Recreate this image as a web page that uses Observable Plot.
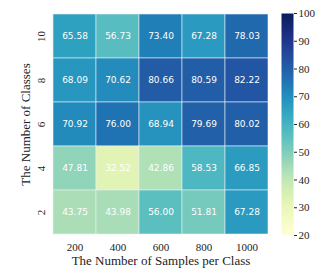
<!DOCTYPE html>
<html><head><meta charset="utf-8">
<script src="https://cdn.jsdelivr.net/npm/d3@7"></script>
<script src="https://cdn.jsdelivr.net/npm/@observablehq/plot@0.6"></script>
<style>
html,body{margin:0;padding:0;background:#fff;}
#wrap{position:relative;width:332px;height:277px;overflow:hidden;}
#wrap > div, #wrap > svg{position:absolute;top:0;}
</style>
</head><body>
<div id="wrap"></div>
<script>
const classes = ["10","8","6","4","2"];
const samples = ["200","400","600","800","1000"];
const row10 = [65.58, 56.73, 73.40, 67.28, 78.03];
const row8  = [68.09, 70.62, 80.66, 80.59, 82.22];
const row6  = [70.92, 76.00, 68.94, 79.69, 80.02];
const row4  = [47.81, 32.52, 42.86, 58.53, 66.85];
const row2  = [43.75, 43.98, 56.00, 51.81, 67.28];
const colorTicks = [20,30,40,50,60,70,80,90,100];
const colorDomain = [20,100];
const xLabel = "The Number of Samples per Class";
const yLabel = "The Number of Classes";

const rowsVals = [row10,row8,row6,row4,row2];
const table = [];
classes.forEach((c,i)=>samples.forEach((s,j)=>table.push({cls:c, smp:s, v:rowsVals[i][j]})));

const serif = "'Liberation Serif','DejaVu Serif',serif";
const sans = "'DejaVu Sans',sans-serif";

const heat = Plot.plot({
  width: 268, height: 277,
  marginLeft: 53, marginRight: 0, marginTop: 13, marginBottom: 42,
  style: {fontFamily: serif, fontSize: "11px", color: "#222", background: "transparent"},
  x: {domain: samples, padding: 0},
  y: {domain: classes, padding: 0},
  color: {type: "linear", scheme: "ylgnbu", domain: colorDomain},
  marks: [
    Plot.cell(table, {x: "smp", y: "cls", fill: "v", inset: 0, stroke: "#e8eef5", strokeWidth: 0.6}),
    Plot.text(table, {x: "smp", y: "cls", text: d => d.v.toFixed(2), fill: "white", fontFamily: sans, fontSize: 9}),
    Plot.axisX({tickSize: 0, tickPadding: 8, fontSize: 11, label: null}),
    Plot.axisY({tickSize: 0, tickPadding: 9, tickRotate: -90, fontSize: 11, label: null}),
    Plot.text([xLabel], {frameAnchor: "bottom", text: d => d, dy: 25, textAnchor: "middle", lineAnchor: "middle", fontSize: 13, fill: "#222", fontFamily: serif}),
    Plot.text([yLabel], {frameAnchor: "left", text: d => d, dx: -28, rotate: -90, textAnchor: "middle", lineAnchor: "middle", fontSize: 13, fill: "#222", fontFamily: serif})
  ]
});
heat.style.left = "0px";
document.getElementById("wrap").appendChild(heat);

const bar = Plot.plot({
  width: 64, height: 277,
  marginLeft: 13, marginRight: 39, marginTop: 13, marginBottom: 42,
  style: {fontFamily: serif, fontSize: "11px", color: "#222", background: "transparent"},
  x: {domain: [0,1], axis: null},
  y: {domain: colorDomain},
  color: {type: "linear", scheme: "ylgnbu", domain: colorDomain},
  marks: [
    Plot.raster({x1: 0, x2: 1, y1: colorDomain[0], y2: colorDomain[1], width: 1, height: 400, fill: (x, y) => y, imageRendering: "auto"}),
    Plot.axisY({anchor: "right", ticks: colorTicks, tickSize: 3, tickPadding: 2, fontSize: 11, label: null})
  ]
});
bar.style.left = "268px";
document.getElementById("wrap").appendChild(bar);
</script>
</body></html>
